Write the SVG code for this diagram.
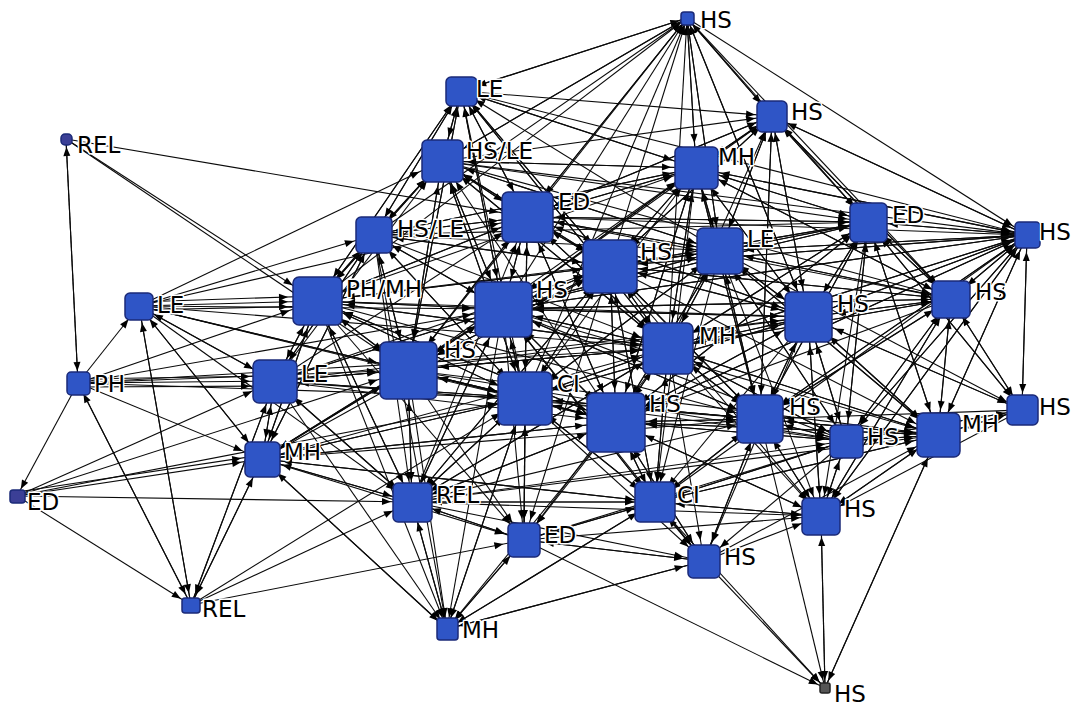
<svg xmlns="http://www.w3.org/2000/svg" width="1071" height="707" viewBox="0 0 1071 707">
<style>
.c path{stroke:#0a0a0a;stroke-width:1.1;fill:none}
.n rect{fill:#2f55c6;stroke:#1b2a78;stroke-width:1.5}
.n .tiny{fill:#3b3f96}
.n text{font-family:"DejaVu Sans","Liberation Sans",sans-serif;font-size:23px;fill:#000;stroke:#fff;stroke-width:3;paint-order:stroke;stroke-linejoin:round}
.m8{marker-end:url(#a8)}.m12{marker-end:url(#a12)}.m16{marker-end:url(#a16)}.m20{marker-end:url(#a20)}.m24{marker-end:url(#a24)}.m28{marker-end:url(#a28)}.m32{marker-end:url(#a32)}
</style>
<defs>
<marker id="a8" markerUnits="userSpaceOnUse" markerWidth="1" markerHeight="1" overflow="visible" orient="auto" refX="8" refY="0"><path d="M0,0L-9,-3.5L-9,3.5Z" fill="#000"/></marker>
<marker id="a12" markerUnits="userSpaceOnUse" markerWidth="1" markerHeight="1" overflow="visible" orient="auto" refX="12" refY="0"><path d="M0,0L-9,-3.5L-9,3.5Z" fill="#000"/></marker>
<marker id="a16" markerUnits="userSpaceOnUse" markerWidth="1" markerHeight="1" overflow="visible" orient="auto" refX="17" refY="0"><path d="M0,0L-9,-3.5L-9,3.5Z" fill="#000"/></marker>
<marker id="a20" markerUnits="userSpaceOnUse" markerWidth="1" markerHeight="1" overflow="visible" orient="auto" refX="21" refY="0"><path d="M0,0L-9,-3.5L-9,3.5Z" fill="#000"/></marker>
<marker id="a24" markerUnits="userSpaceOnUse" markerWidth="1" markerHeight="1" overflow="visible" orient="auto" refX="25" refY="0"><path d="M0,0L-9,-3.5L-9,3.5Z" fill="#000"/></marker>
<marker id="a28" markerUnits="userSpaceOnUse" markerWidth="1" markerHeight="1" overflow="visible" orient="auto" refX="29" refY="0"><path d="M0,0L-9,-3.5L-9,3.5Z" fill="#000"/></marker>
<marker id="a32" markerUnits="userSpaceOnUse" markerWidth="1" markerHeight="1" overflow="visible" orient="auto" refX="32" refY="0"><path d="M0,0L-9,-3.5L-9,3.5Z" fill="#000"/></marker>
</defs>
<rect width="1071" height="707" fill="#fff"/>
<g id="connectors" class="c">
<g class="m8"><path d="M461 91L687 18"/><path d="M442 161L687 18"/><path d="M527 217L687 18"/><path d="M374 235L687 18"/><path d="M610 266L687 18"/><path d="M317 301L687 18"/><path d="M503 309L687 18"/><path d="M408 370L687 18"/><path d="M525 398L687 18"/><path d="M696 168L687 18"/><path d="M720 251L687 18"/><path d="M668 348L687 18"/><path d="M808 317L687 18"/><path d="M772 116L687 18"/></g>
<g class="m16"><path d="M442 161L461 91"/><path d="M374 235L461 91"/><path d="M527 217L461 91"/><path d="M317 301L461 91"/><path d="M610 266L461 91"/><path d="M503 309L461 91"/><path d="M408 370L461 91"/><path d="M720 251L461 91"/><path d="M668 348L461 91"/><path d="M525 398L461 91"/><path d="M696 168L461 91"/><path d="M687 18L461 91"/></g>
<g class="m16"><path d="M461 91L772 116"/><path d="M442 161L772 116"/><path d="M696 168L772 116"/><path d="M527 217L772 116"/><path d="M868 222L772 116"/><path d="M720 251L772 116"/><path d="M1027 235L772 116"/><path d="M610 266L772 116"/><path d="M808 317L772 116"/><path d="M951 299L772 116"/><path d="M687 18L772 116"/><path d="M503 309L772 116"/><path d="M668 348L772 116"/><path d="M760 419L772 116"/></g>
<g class="m8"><path d="M78 383L66 139"/></g>
<g class="m24"><path d="M461 91L442 161"/><path d="M374 235L442 161"/><path d="M317 301L442 161"/><path d="M503 309L442 161"/><path d="M408 370L442 161"/><path d="M527 217L442 161"/><path d="M610 266L442 161"/><path d="M139 306L442 161"/><path d="M275 381L442 161"/><path d="M525 398L442 161"/><path d="M668 348L442 161"/><path d="M696 168L442 161"/><path d="M687 18L442 161"/><path d="M720 251L442 161"/><path d="M616 422L442 161"/></g>
<g class="m24"><path d="M687 18L696 168"/><path d="M461 91L696 168"/><path d="M442 161L696 168"/><path d="M527 217L696 168"/><path d="M772 116L696 168"/><path d="M868 222L696 168"/><path d="M610 266L696 168"/><path d="M720 251L696 168"/><path d="M503 309L696 168"/><path d="M808 317L696 168"/><path d="M951 299L696 168"/><path d="M668 348L696 168"/><path d="M1027 235L696 168"/><path d="M525 398L696 168"/><path d="M616 422L696 168"/><path d="M760 419L696 168"/><path d="M408 370L696 168"/><path d="M374 235L696 168"/><path d="M317 301L696 168"/></g>
<g class="m28"><path d="M66 139L527 217"/><path d="M461 91L527 217"/><path d="M442 161L527 217"/><path d="M374 235L527 217"/><path d="M317 301L527 217"/><path d="M610 266L527 217"/><path d="M503 309L527 217"/><path d="M408 370L527 217"/><path d="M696 168L527 217"/><path d="M720 251L527 217"/><path d="M668 348L527 217"/><path d="M525 398L527 217"/><path d="M616 422L527 217"/><path d="M139 306L527 217"/><path d="M275 381L527 217"/><path d="M687 18L527 217"/><path d="M772 116L527 217"/><path d="M808 317L527 217"/><path d="M868 222L527 217"/><path d="M412 502L527 217"/></g>
<g class="m20"><path d="M687 18L868 222"/><path d="M772 116L868 222"/><path d="M696 168L868 222"/><path d="M720 251L868 222"/><path d="M610 266L868 222"/><path d="M1027 235L868 222"/><path d="M808 317L868 222"/><path d="M951 299L868 222"/><path d="M668 348L868 222"/><path d="M503 309L868 222"/><path d="M760 419L868 222"/><path d="M846 441L868 222"/><path d="M938 435L868 222"/><path d="M616 422L868 222"/><path d="M527 217L868 222"/><path d="M1022 410L868 222"/><path d="M374 235L868 222"/><path d="M442 161L868 222"/></g>
<g class="m20"><path d="M461 91L374 235"/><path d="M442 161L374 235"/><path d="M317 301L374 235"/><path d="M139 306L374 235"/><path d="M408 370L374 235"/><path d="M275 381L374 235"/><path d="M503 309L374 235"/><path d="M527 217L374 235"/><path d="M610 266L374 235"/><path d="M525 398L374 235"/><path d="M262 459L374 235"/><path d="M696 168L374 235"/></g>
<g class="m16"><path d="M687 18L1027 235"/><path d="M772 116L1027 235"/><path d="M696 168L1027 235"/><path d="M868 222L1027 235"/><path d="M720 251L1027 235"/><path d="M808 317L1027 235"/><path d="M951 299L1027 235"/><path d="M1022 410L1027 235"/><path d="M760 419L1027 235"/><path d="M846 441L1027 235"/><path d="M938 435L1027 235"/><path d="M668 348L1027 235"/><path d="M610 266L1027 235"/><path d="M616 422L1027 235"/><path d="M821 516L1027 235"/><path d="M655 502L1027 235"/><path d="M503 309L1027 235"/><path d="M527 217L1027 235"/><path d="M442 161L1027 235"/><path d="M461 91L1027 235"/></g>
<g class="m28"><path d="M461 91L610 266"/><path d="M442 161L610 266"/><path d="M527 217L610 266"/><path d="M696 168L610 266"/><path d="M720 251L610 266"/><path d="M374 235L610 266"/><path d="M317 301L610 266"/><path d="M503 309L610 266"/><path d="M808 317L610 266"/><path d="M668 348L610 266"/><path d="M408 370L610 266"/><path d="M525 398L610 266"/><path d="M616 422L610 266"/><path d="M760 419L610 266"/><path d="M772 116L610 266"/><path d="M868 222L610 266"/><path d="M1027 235L610 266"/><path d="M951 299L610 266"/><path d="M275 381L610 266"/><path d="M262 459L610 266"/><path d="M412 502L610 266"/><path d="M655 502L610 266"/></g>
<g class="m24"><path d="M687 18L720 251"/><path d="M772 116L720 251"/><path d="M696 168L720 251"/><path d="M527 217L720 251"/><path d="M868 222L720 251"/><path d="M610 266L720 251"/><path d="M808 317L720 251"/><path d="M951 299L720 251"/><path d="M668 348L720 251"/><path d="M616 422L720 251"/><path d="M760 419L720 251"/><path d="M503 309L720 251"/><path d="M1027 235L720 251"/><path d="M846 441L720 251"/><path d="M938 435L720 251"/><path d="M525 398L720 251"/><path d="M442 161L720 251"/><path d="M317 301L720 251"/><path d="M374 235L720 251"/></g>
<g class="m16"><path d="M78 383L139 306"/><path d="M275 381L139 306"/><path d="M262 459L139 306"/><path d="M191 605L139 306"/></g>
<g class="m28"><path d="M66 139L317 301"/><path d="M139 306L317 301"/><path d="M139 310L317 306"/><path d="M139 302L317 296"/><path d="M78 383L317 301"/><path d="M275 381L317 301"/><path d="M374 235L317 301"/><path d="M442 161L317 301"/><path d="M408 370L317 301"/><path d="M503 309L317 301"/><path d="M262 459L317 301"/><path d="M525 398L317 301"/><path d="M527 217L317 301"/><path d="M610 266L317 301"/><path d="M668 348L317 301"/><path d="M412 502L317 301"/><path d="M616 422L317 301"/><path d="M461 91L317 301"/></g>
<g class="m32"><path d="M461 91L503 309"/><path d="M442 161L503 309"/><path d="M527 217L503 309"/><path d="M374 235L503 309"/><path d="M610 266L503 309"/><path d="M317 301L503 309"/><path d="M408 370L503 309"/><path d="M275 381L503 309"/><path d="M139 306L503 309"/><path d="M525 398L503 309"/><path d="M616 422L503 309"/><path d="M668 348L503 309"/><path d="M696 168L503 309"/><path d="M720 251L503 309"/><path d="M808 317L503 309"/><path d="M760 419L503 309"/><path d="M951 299L503 309"/><path d="M1027 235L503 309"/><path d="M868 222L503 309"/><path d="M412 502L503 309"/><path d="M262 459L503 309"/><path d="M78 383L503 309"/><path d="M655 502L503 309"/></g>
<g class="m28"><path d="M687 18L808 317"/><path d="M772 116L808 317"/><path d="M696 168L808 317"/><path d="M868 222L808 317"/><path d="M1027 235L808 317"/><path d="M610 266L808 317"/><path d="M720 251L808 317"/><path d="M951 299L808 317"/><path d="M668 348L808 317"/><path d="M616 422L808 317"/><path d="M760 419L808 317"/><path d="M846 441L808 317"/><path d="M938 435L808 317"/><path d="M1022 410L808 317"/><path d="M503 309L808 317"/><path d="M525 398L808 317"/><path d="M527 217L808 317"/><path d="M821 516L808 317"/><path d="M275 381L808 317"/><path d="M408 370L808 317"/><path d="M317 301L808 317"/></g>
<g class="m20"><path d="M687 18L951 299"/><path d="M772 116L951 299"/><path d="M868 222L951 299"/><path d="M1027 235L951 299"/><path d="M720 251L951 299"/><path d="M808 317L951 299"/><path d="M1022 410L951 299"/><path d="M938 435L951 299"/><path d="M846 441L951 299"/><path d="M760 419L951 299"/><path d="M696 168L951 299"/><path d="M668 348L951 299"/><path d="M610 266L951 299"/><path d="M821 516L951 299"/><path d="M503 309L951 299"/><path d="M527 217L951 299"/><path d="M442 161L951 299"/></g>
<g class="m28"><path d="M461 91L668 348"/><path d="M442 161L668 348"/><path d="M527 217L668 348"/><path d="M610 266L668 348"/><path d="M720 251L668 348"/><path d="M503 309L668 348"/><path d="M808 317L668 348"/><path d="M408 370L668 348"/><path d="M525 398L668 348"/><path d="M616 422L668 348"/><path d="M760 419L668 348"/><path d="M696 168L668 348"/><path d="M868 222L668 348"/><path d="M317 301L668 348"/><path d="M374 235L668 348"/><path d="M275 381L668 348"/><path d="M412 502L668 348"/><path d="M655 502L668 348"/><path d="M951 299L668 348"/><path d="M1027 235L668 348"/><path d="M938 435L668 348"/><path d="M846 441L668 348"/><path d="M139 306L668 348"/><path d="M78 383L668 348"/><path d="M262 459L668 348"/></g>
<g class="m32"><path d="M139 306L408 370"/><path d="M317 301L408 370"/><path d="M374 235L408 370"/><path d="M275 381L408 370"/><path d="M78 383L408 370"/><path d="M262 459L408 370"/><path d="M503 309L408 370"/><path d="M525 398L408 370"/><path d="M442 161L408 370"/><path d="M461 91L408 370"/><path d="M527 217L408 370"/><path d="M610 266L408 370"/><path d="M616 422L408 370"/><path d="M412 502L408 370"/><path d="M668 348L408 370"/><path d="M66 139L408 370"/><path d="M17 496L408 370"/></g>
<g class="m24"><path d="M78 383L275 381"/><path d="M78 387L275 386"/><path d="M78 379L275 376"/><path d="M139 306L275 381"/><path d="M262 459L275 381"/><path d="M317 301L275 381"/><path d="M374 235L275 381"/><path d="M408 370L275 381"/><path d="M17 496L275 381"/><path d="M503 309L275 381"/><path d="M525 398L275 381"/><path d="M412 502L275 381"/><path d="M191 605L275 381"/></g>
<g class="m12"><path d="M66 139L78 383"/><path d="M191 605L78 383"/></g>
<g class="m28"><path d="M503 309L525 398"/><path d="M408 370L525 398"/><path d="M317 301L525 398"/><path d="M610 266L525 398"/><path d="M527 217L525 398"/><path d="M668 348L525 398"/><path d="M616 422L525 398"/><path d="M275 381L525 398"/><path d="M262 459L525 398"/><path d="M374 235L525 398"/><path d="M412 502L525 398"/><path d="M655 502L525 398"/><path d="M524 540L525 398"/><path d="M139 306L525 398"/><path d="M78 383L525 398"/><path d="M442 161L525 398"/><path d="M720 251L525 398"/><path d="M808 317L525 398"/><path d="M760 419L525 398"/><path d="M447 629L525 398"/><path d="M17 496L525 398"/><path d="M191 605L525 398"/></g>
<g class="m32"><path d="M610 266L616 422"/><path d="M503 309L616 422"/><path d="M668 348L616 422"/><path d="M525 398L616 422"/><path d="M720 251L616 422"/><path d="M808 317L616 422"/><path d="M760 419L616 422"/><path d="M846 441L616 422"/><path d="M408 370L616 422"/><path d="M527 217L616 422"/><path d="M696 168L616 422"/><path d="M655 502L616 422"/><path d="M704 561L616 422"/><path d="M821 516L616 422"/><path d="M938 435L616 422"/><path d="M951 299L616 422"/><path d="M868 222L616 422"/><path d="M1027 235L616 422"/><path d="M317 301L616 422"/><path d="M275 381L616 422"/><path d="M262 459L616 422"/><path d="M412 502L616 422"/><path d="M139 306L616 422"/></g>
<g class="m24"><path d="M720 251L760 419"/><path d="M808 317L760 419"/><path d="M668 348L760 419"/><path d="M610 266L760 419"/><path d="M616 422L760 419"/><path d="M868 222L760 419"/><path d="M951 299L760 419"/><path d="M846 441L760 419"/><path d="M938 435L760 419"/><path d="M696 168L760 419"/><path d="M772 116L760 419"/><path d="M1027 235L760 419"/><path d="M1022 410L760 419"/><path d="M655 502L760 419"/><path d="M821 516L760 419"/><path d="M704 561L760 419"/><path d="M525 398L760 419"/><path d="M503 309L760 419"/><path d="M275 381L760 419"/><path d="M317 301L760 419"/><path d="M262 459L760 419"/><path d="M412 502L760 419"/></g>
<g class="m16"><path d="M1027 235L1022 410"/><path d="M951 299L1022 410"/><path d="M938 435L1022 410"/><path d="M808 317L1022 410"/><path d="M868 222L1022 410"/><path d="M720 251L1022 410"/><path d="M846 441L1022 410"/></g>
<g class="m20"><path d="M808 317L846 441"/><path d="M951 299L846 441"/><path d="M760 419L846 441"/><path d="M868 222L846 441"/><path d="M1027 235L846 441"/><path d="M720 251L846 441"/><path d="M938 435L846 441"/><path d="M668 348L846 441"/><path d="M616 422L846 441"/><path d="M655 502L846 441"/><path d="M1022 410L846 441"/><path d="M821 516L846 441"/><path d="M408 370L846 441"/><path d="M412 502L846 441"/><path d="M525 398L846 441"/><path d="M503 309L846 441"/><path d="M524 540L846 441"/></g>
<g class="m24"><path d="M951 299L938 435"/><path d="M1027 235L938 435"/><path d="M1022 410L938 435"/><path d="M808 317L938 435"/><path d="M846 441L938 435"/><path d="M760 419L938 435"/><path d="M868 222L938 435"/><path d="M720 251L938 435"/><path d="M668 348L938 435"/><path d="M616 422L938 435"/><path d="M610 266L938 435"/><path d="M821 516L938 435"/><path d="M825 688L938 435"/><path d="M704 561L938 435"/><path d="M655 502L938 435"/><path d="M525 398L938 435"/><path d="M503 309L938 435"/><path d="M408 370L938 435"/><path d="M412 502L938 435"/></g>
<g class="m20"><path d="M78 383L262 459"/><path d="M17 496L262 459"/><path d="M17 492L262 455"/><path d="M275 381L262 459"/><path d="M139 306L262 459"/><path d="M317 301L262 459"/><path d="M408 370L262 459"/><path d="M191 605L262 459"/><path d="M374 235L262 459"/><path d="M503 309L262 459"/><path d="M525 398L262 459"/><path d="M412 502L262 459"/><path d="M447 629L262 459"/><path d="M655 502L262 459"/><path d="M616 422L262 459"/></g>
<g class="m8"><path d="M78 383L17 496"/></g>
<g class="m20"><path d="M17 496L412 502"/><path d="M408 370L412 502"/><path d="M262 459L412 502"/><path d="M525 398L412 502"/><path d="M503 309L412 502"/><path d="M317 301L412 502"/><path d="M275 381L412 502"/><path d="M374 235L412 502"/><path d="M616 422L412 502"/><path d="M668 348L412 502"/><path d="M610 266L412 502"/><path d="M655 502L412 502"/><path d="M524 540L412 502"/><path d="M447 629L412 502"/><path d="M191 605L412 502"/><path d="M139 306L412 502"/></g>
<g class="m20"><path d="M616 422L655 502"/><path d="M668 348L655 502"/><path d="M525 398L655 502"/><path d="M760 419L655 502"/><path d="M808 317L655 502"/><path d="M610 266L655 502"/><path d="M720 251L655 502"/><path d="M846 441L655 502"/><path d="M938 435L655 502"/><path d="M821 516L655 502"/><path d="M704 561L655 502"/><path d="M503 309L655 502"/><path d="M524 540L655 502"/><path d="M412 502L655 502"/><path d="M696 168L655 502"/><path d="M262 459L655 502"/><path d="M447 629L655 502"/></g>
<g class="m20"><path d="M825 688L821 516"/><path d="M760 419L821 516"/><path d="M808 317L821 516"/><path d="M846 441L821 516"/><path d="M938 435L821 516"/><path d="M655 502L821 516"/><path d="M616 422L821 516"/><path d="M668 348L821 516"/><path d="M951 299L821 516"/><path d="M1027 235L821 516"/><path d="M868 222L821 516"/><path d="M720 251L821 516"/><path d="M1022 410L821 516"/><path d="M704 561L821 516"/><path d="M610 266L821 516"/><path d="M524 540L821 516"/><path d="M412 502L821 516"/></g>
<g class="m20"><path d="M525 398L524 540"/><path d="M447 629L524 540"/><path d="M412 502L524 540"/><path d="M408 370L524 540"/><path d="M503 309L524 540"/><path d="M616 422L524 540"/><path d="M655 502L524 540"/><path d="M262 459L524 540"/><path d="M668 348L524 540"/><path d="M610 266L524 540"/><path d="M317 301L524 540"/><path d="M704 561L524 540"/><path d="M527 217L524 540"/><path d="M191 605L524 540"/></g>
<g class="m20"><path d="M616 422L704 561"/><path d="M655 502L704 561"/><path d="M760 419L704 561"/><path d="M668 348L704 561"/><path d="M525 398L704 561"/><path d="M846 441L704 561"/><path d="M524 540L704 561"/><path d="M412 502L704 561"/><path d="M503 309L704 561"/><path d="M808 317L704 561"/><path d="M447 629L704 561"/></g>
<g class="m12"><path d="M78 383L191 605"/><path d="M17 496L191 605"/><path d="M262 459L191 605"/><path d="M275 381L191 605"/><path d="M139 306L191 605"/></g>
<g class="m12"><path d="M412 502L447 629"/><path d="M524 540L447 629"/><path d="M262 459L447 629"/><path d="M408 370L447 629"/><path d="M525 398L447 629"/><path d="M275 381L447 629"/><path d="M503 309L447 629"/><path d="M616 422L447 629"/><path d="M374 235L447 629"/><path d="M317 301L447 629"/><path d="M655 502L447 629"/><path d="M704 561L447 629"/></g>
<g class="m8"><path d="M821 516L825 688"/><path d="M704 561L825 688"/><path d="M655 502L825 688"/><path d="M524 540L825 688"/><path d="M760 419L825 688"/><path d="M938 435L825 688"/></g>
</g>
<g class="n">
<g id="n1"><rect x="681" y="12" width="13" height="13" rx="3"/><text x="700" y="28">HS</text></g>
<g id="n2"><rect x="446" y="77" width="31" height="29" rx="5"/><text x="476" y="97">LE</text></g>
<g id="n3"><rect x="757" y="101" width="30" height="31" rx="5"/><text x="791" y="120">HS</text></g>
<g id="n4"><rect class="tiny" x="61" y="134" width="11" height="11" rx="4"/><text x="77" y="153">REL</text></g>
<g id="n5"><rect x="422" y="140" width="41" height="42" rx="5"/><text x="466" y="159">HS/LE</text></g>
<g id="n6"><rect x="675" y="147" width="43" height="42" rx="5"/><text x="718" y="165">MH</text></g>
<g id="n7"><rect x="502" y="192" width="51" height="50" rx="6"/><text x="558" y="210">ED</text></g>
<g id="n8"><rect x="850" y="203" width="37" height="39" rx="5"/><text x="892" y="223">ED</text></g>
<g id="n9"><rect x="356" y="217" width="36" height="36" rx="5"/><text x="397" y="237">HS/LE</text></g>
<g id="n10"><rect x="1015" y="222" width="25" height="26" rx="4"/><text x="1039" y="240">HS</text></g>
<g id="n11"><rect x="583" y="240" width="54" height="53" rx="6"/><text x="640" y="260">HS</text></g>
<g id="n12"><rect x="697" y="228" width="46" height="46" rx="6"/><text x="747" y="247">LE</text></g>
<g id="n13"><rect x="125" y="293" width="28" height="27" rx="5"/><text x="157" y="313">LE</text></g>
<g id="n14"><rect x="293" y="277" width="49" height="48" rx="6"/><text x="346" y="297">PH/MH</text></g>
<g id="n15"><rect x="475" y="282" width="57" height="55" rx="6"/><text x="536" y="298">HS</text></g>
<g id="n16"><rect x="785" y="292" width="47" height="50" rx="6"/><text x="837" y="312">HS</text></g>
<g id="n17"><rect x="932" y="281" width="38" height="37" rx="5"/><text x="975" y="300">HS</text></g>
<g id="n18"><rect x="643" y="323" width="50" height="51" rx="6"/><text x="699" y="344">MH</text></g>
<g id="n19"><rect x="380" y="342" width="57" height="57" rx="6"/><text x="444" y="358">HS</text></g>
<g id="n20"><rect x="253" y="360" width="44" height="43" rx="6"/><text x="301" y="382">LE</text></g>
<g id="n21"><rect x="67" y="372" width="23" height="23" rx="4"/><text x="94" y="392">PH</text></g>
<g id="n22"><rect x="498" y="372" width="54" height="53" rx="6"/><text x="557" y="392">CI</text></g>
<g id="n23"><rect x="587" y="393" width="58" height="59" rx="6"/><text x="649" y="412">HS</text></g>
<g id="n24"><rect x="737" y="395" width="46" height="48" rx="6"/><text x="789" y="415">HS</text></g>
<g id="n25"><rect x="1007" y="395" width="31" height="30" rx="5"/><text x="1039" y="415">HS</text></g>
<g id="n26"><rect x="830" y="425" width="33" height="33" rx="5"/><text x="867" y="445">HS</text></g>
<g id="n27"><rect x="917" y="413" width="43" height="44" rx="6"/><text x="962" y="432">MH</text></g>
<g id="n28"><rect x="245" y="442" width="35" height="35" rx="5"/><text x="284" y="460">MH</text></g>
<g id="n29"><rect class="tiny" x="10" y="490" width="15" height="13" rx="3"/><text x="27" y="510">ED</text></g>
<g id="n30"><rect x="393" y="483" width="39" height="39" rx="5"/><text x="436" y="503">REL</text></g>
<g id="n31"><rect x="635" y="482" width="40" height="40" rx="5"/><text x="677" y="503">CI</text></g>
<g id="n32"><rect x="802" y="498" width="38" height="37" rx="5"/><text x="844" y="517">HS</text></g>
<g id="n33"><rect x="508" y="523" width="32" height="34" rx="5"/><text x="544" y="543">ED</text></g>
<g id="n34"><rect x="688" y="545" width="32" height="33" rx="5"/><text x="724" y="565">HS</text></g>
<g id="n35"><rect x="182" y="598" width="18" height="15" rx="3"/><text x="202" y="617">REL</text></g>
<g id="n36"><rect x="437" y="618" width="21" height="22" rx="3"/><text x="462" y="638">MH</text></g>
<g id="n37"><rect class="tiny" x="820" y="683" width="10" height="10" rx="2" style="fill:#555;stroke:#222"/><text x="834" y="702">HS</text></g>
</g>
</svg>
